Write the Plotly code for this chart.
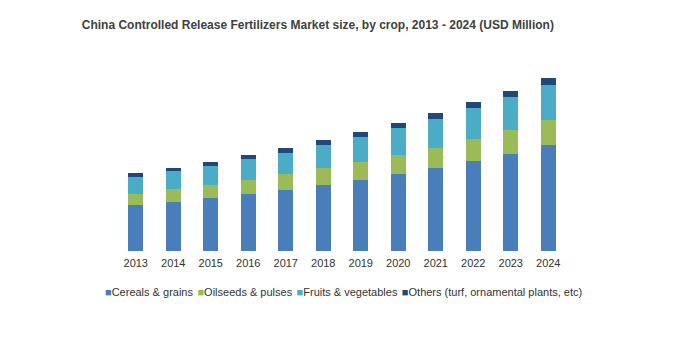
import plotly.graph_objects as go

years = ["2013", "2014", "2015", "2016", "2017", "2018", "2019", "2020", "2021", "2022", "2023", "2024"]
cereals = [45.7, 48.7, 52.7, 56.7, 60.7, 65.7, 70.7, 76.7, 82.7, 89.7, 96.7, 105.7]
oilseeds = [11.0, 13.3, 13.0, 14.0, 16.0, 17.0, 18.0, 19.0, 20.7, 22.0, 24.0, 25.0]
fruits = [17.0, 17.7, 19.0, 21.0, 21.0, 23.0, 25.0, 27.0, 28.3, 31.0, 33.0, 35.0]
others = [4.0, 3.0, 4.0, 4.0, 5.0, 5.0, 5.0, 5.0, 6.0, 6.0, 6.0, 7.0]

series_names = ["Cereals & grains", "Oilseeds & pulses", "Fruits & vegetables",
                "Others (turf, ornamental plants, etc)"]
series_values = [cereals, oilseeds, fruits, others]
colors = ["#4A7EBB", "#9BBB59", "#4BACC6", "#1F497D"]

title_text = "China Controlled Release Fertilizers Market size, by crop, 2013 - 2024 (USD Million)"

font_family = "Liberation Sans, Arial, sans-serif"

fig = go.Figure()
for name, vals, col in zip(series_names, series_values, colors):
    fig.add_trace(go.Bar(x=years, y=vals, name=name, marker=dict(color=col, line=dict(width=0)),
                         showlegend=False))

legend_html = "<span style='font-size:8px'>&nbsp;&nbsp;</span>".join(
    f"<span style='color:{c}; font-size:11px'>■</span>{n}" for n, c in zip(series_names, colors)
)

fig.update_layout(
    width=685, height=340,
    margin=dict(l=117, r=118, t=50, b=89),
    paper_bgcolor="white", plot_bgcolor="white",
    barmode="stack", bargap=0.6,
    font=dict(family=font_family, color="#333333", size=11),
    title=dict(text="<b>" + title_text + "</b>", x=0.464, xanchor="center", y=0.926, yanchor="middle",
               font=dict(size=12, color="#404040", family=font_family)),
    xaxis=dict(type="category", showgrid=False, showline=False, zeroline=False, ticks="",
               tickfont=dict(size=11, color="#333333"), ticklabelstandoff=4),
    yaxis=dict(visible=False, range=[0, 201]),
    annotations=[dict(text=legend_html, xref="paper", yref="paper", x=0.503, y=-0.204,
                      xanchor="center", yanchor="middle", showarrow=False,
                      font=dict(size=11, color="#333333", family=font_family))],
)

fig.write_html("out.html")
